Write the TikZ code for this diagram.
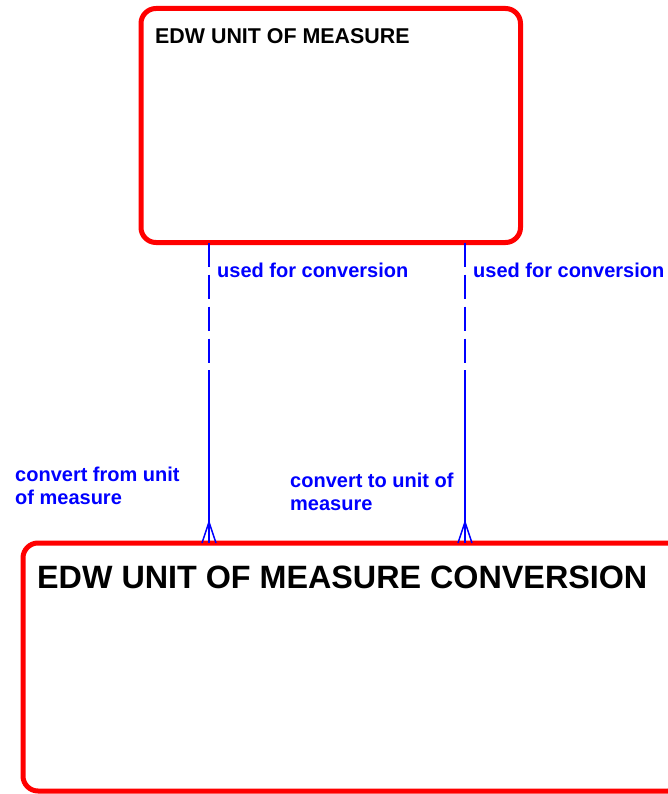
\documentclass[tikz,border=0pt]{standalone}
\usepackage{fontspec}
\setmainfont{Liberation Sans}
\usetikzlibrary{calc,positioning}

\tikzset{
  entity/.style={draw=red, line width=5pt, rounded corners=15pt, anchor=north west, inner sep=0pt, outer sep=0pt},
  entname/.style={anchor=base west, inner sep=0pt, font=\fontsize{21.4}{24}\selectfont\bfseries},
  rel/.style={blue, line width=1.5pt},
  optional/.style={rel, dash pattern=on 24pt off 8pt},
  rellabel/.style={text=blue, anchor=west, align=left, inner sep=0pt, font=\fontsize{20}{23}\selectfont\bfseries},
}

\begin{document}
\begin{tikzpicture}[x=1pt, y=-1pt]
\newcommand{\crowfoot}[1]{
    \draw[rel] ($(#1)+(0,-21)$) -- ++(-7,21) ($(#1)+(0,-21)$) -- ++(7,21);
}
\useasboundingbox (0,0) rectangle (668,794);
\clip (0,0) rectangle (668,794);

\node[entity, minimum width=379.5pt, minimum height=234pt] (uom) at (141,8.5) {};
\node[entity, minimum width=660pt, minimum height=248pt] (uomc) at (23,543) {};

\node[entname] (uomname) at (155,44) {EDW UNIT OF MEASURE};
\node[entname, font=\fontsize{32.3}{36}\selectfont\bfseries] (uomcname) at (37,588) {EDW UNIT OF MEASURE CONVERSION};

\coordinate (fromtop) at ($(uom.south west)+(68,0)$);
\coordinate (frommid) at ($(fromtop)+(0,127.5)$);
\coordinate (fromend) at ($(uomc.north west)+(186,0)$);
\coordinate (totop) at ($(uom.south west)+(324,0)$);
\coordinate (tomid) at ($(totop)+(0,127.5)$);
\coordinate (toend) at ($(uomc.north west)+(442,0)$);

\draw[optional] (fromtop) -- (frommid);
\draw[rel] (frommid) -- (fromend);
\crowfoot{fromend}
\draw[optional] (totop) -- (tomid);
\draw[rel] (tomid) -- (toend);
\crowfoot{toend}

\node[rellabel] (usedfrom) at (217,270) {used for conversion};
\node[rellabel] (usedto) at (473,270) {used for conversion};
\node[rellabel] (convfrom) at (15,486) {convert from unit\\of measure};
\node[rellabel] (convto) at (290,491.5) {convert to unit of\\measure};
\end{tikzpicture}
\end{document}
